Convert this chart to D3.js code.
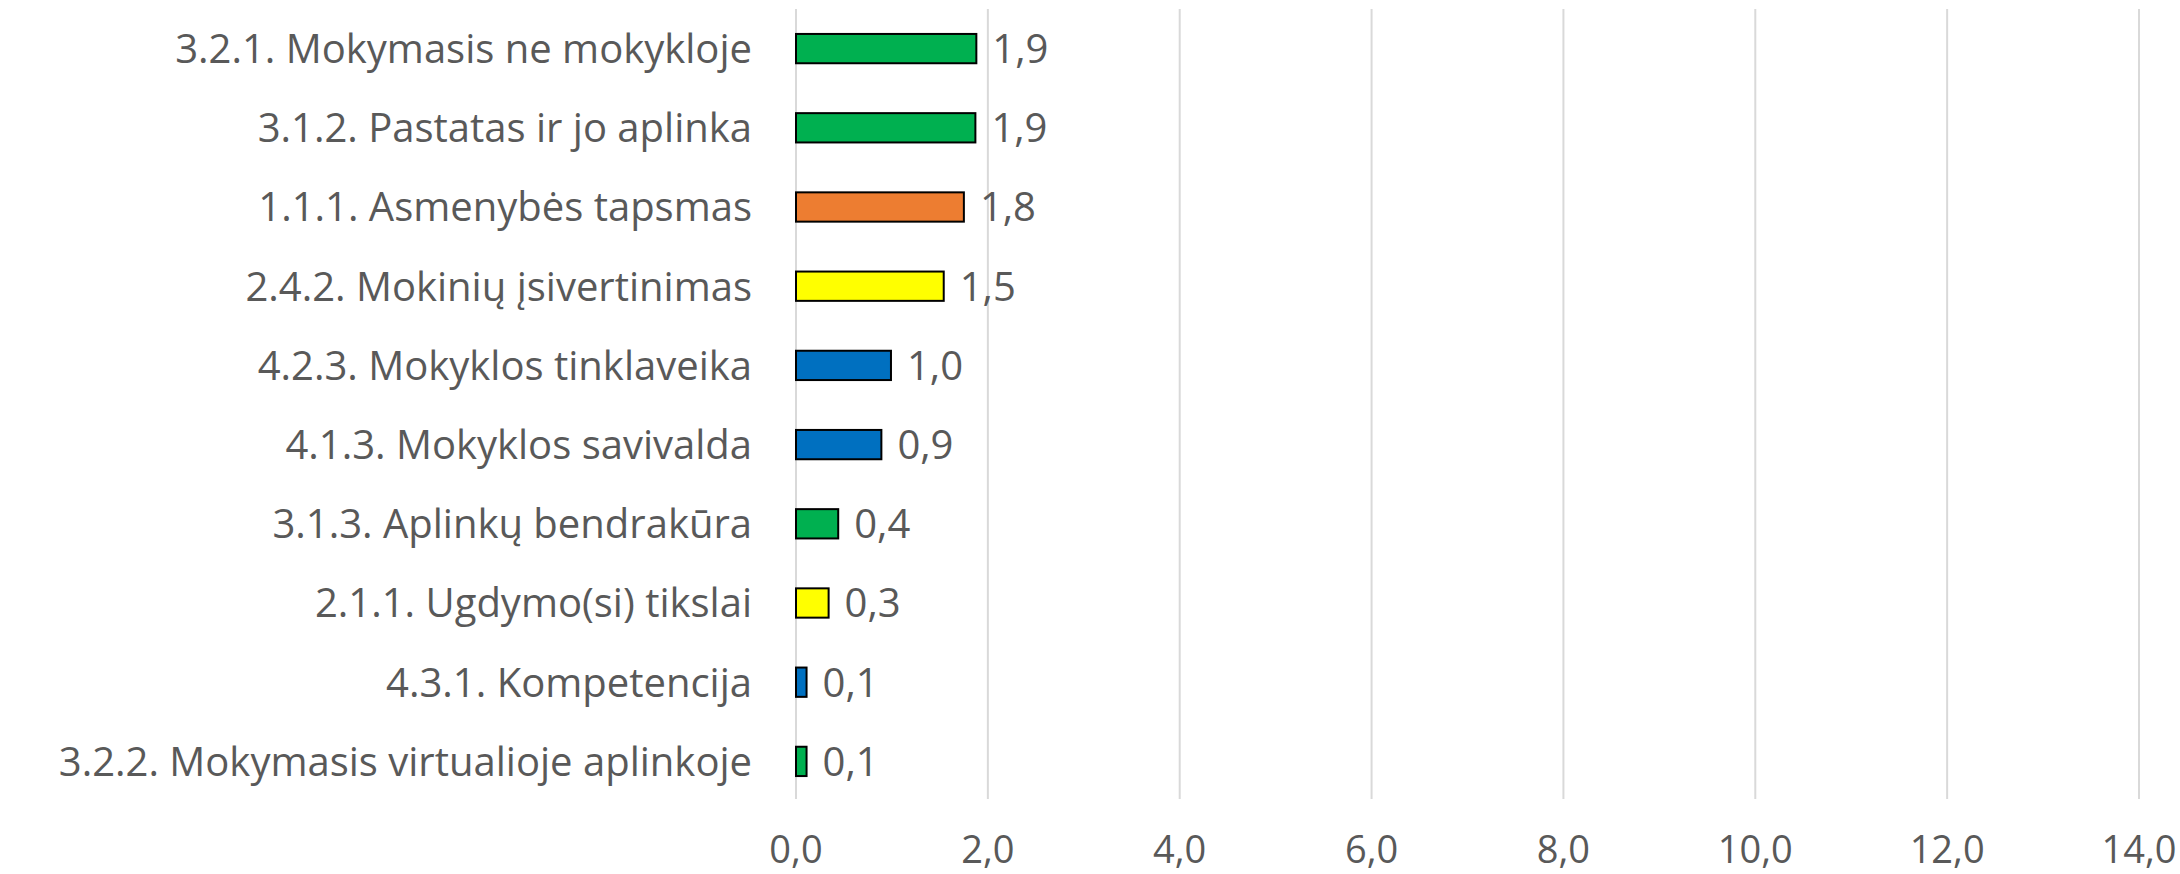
<!DOCTYPE html>
<html lang="lt">
<head>
<meta charset="UTF-8">
<title>Rodikliai</title>
<script src="https://d3js.org/d3.v7.min.js"></script>
<style>
  body { margin: 0; background: #fff; }
  svg text { font-family: "Open Sans", Lato, sans-serif; fill: #595959; }
  .grid line { stroke: #d9d9d9; stroke-width: 2; }
  .bar { stroke: #000; stroke-width: 2; }
</style>
</head>
<body>
<svg id="chart" width="2180" height="874"></svg>
<script>
// data, top to bottom
const categories = [
  "3.2.1. Mokymasis ne mokykloje",
  "3.1.2. Pastatas ir jo aplinka",
  "1.1.1. Asmenybės tapsmas",
  "2.4.2. Mokinių įsivertinimas",
  "4.2.3. Mokyklos tinklaveika",
  "4.1.3. Mokyklos savivalda",
  "3.1.3. Aplinkų bendrakūra",
  "2.1.1. Ugdymo(si) tikslai",
  "4.3.1. Kompetencija",
  "3.2.2. Mokymasis virtualioje aplinkoje"
];
const values = [1.88, 1.87, 1.75, 1.54, 0.99, 0.89, 0.44, 0.34, 0.11, 0.11];
const barColors = ["#00b050", "#00b050", "#ed7d31", "#ffff00", "#0070c0",
                   "#0070c0", "#00b050", "#ffff00", "#0070c0", "#00b050"];
const tickValues = [0, 2, 4, 6, 8, 10, 12, 14];

const svg = d3.select("#chart");
const fmt = v => d3.format(".1f")(v).replace(".", ",");

const x = d3.scaleLinear().domain([0, 14]).range([796, 2139]);
const y = d3.scaleBand()
  .domain(categories)
  .range([9, 801])
  .paddingInner(0.63)
  .paddingOuter(0.315);

// gridlines
svg.append("g").attr("class", "grid")
  .selectAll("line")
  .data(tickValues)
  .join("line")
  .attr("x1", d => x(d)).attr("x2", d => x(d))
  .attr("y1", 9).attr("y2", 799);

// x tick labels
svg.append("g")
  .selectAll("text")
  .data(tickValues)
  .join("text")
  .attr("x", d => x(d))
  .attr("y", 863)
  .attr("text-anchor", "middle")
  .style("font-size", "38px")
  .text(d => fmt(d));

// category labels
svg.append("g")
  .selectAll("text")
  .data(categories)
  .join("text")
  .attr("x", 752)
  .attr("y", d => y(d) + y.bandwidth() / 2)
  .attr("dy", "0.36em")
  .attr("text-anchor", "end")
  .style("font-size", "40px")
  .text(d => d);

// bars
svg.append("g")
  .selectAll("rect")
  .data(values)
  .join("rect")
  .attr("class", "bar")
  .attr("x", x(0))
  .attr("y", (d, i) => y(categories[i]))
  .attr("width", d => x(d) - x(0))
  .attr("height", y.bandwidth())
  .attr("fill", (d, i) => barColors[i]);

// value labels
svg.append("g")
  .selectAll("text")
  .data(values)
  .join("text")
  .attr("x", d => x(d) + 16)
  .attr("y", (d, i) => y(categories[i]) + y.bandwidth() / 2)
  .attr("dy", "0.36em")
  .style("font-size", "40px")
  .text(d => fmt(d));
</script>
</body>
</html>
